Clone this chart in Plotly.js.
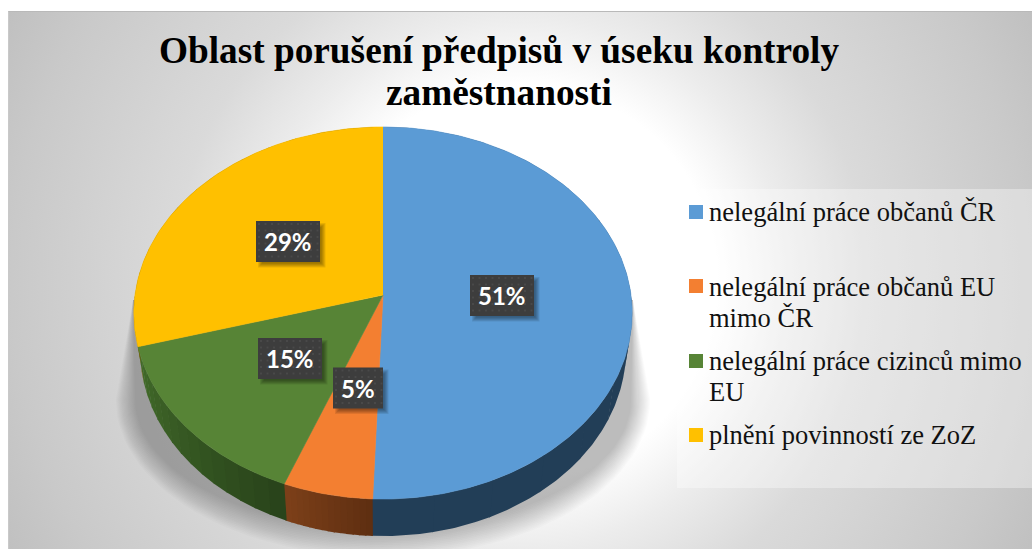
<!DOCTYPE html>
<html>
<head>
<meta charset="utf-8">
<script src="https://cdn.plot.ly/plotly-3.0.1.min.js"></script>
<style>
html,body{margin:0;padding:0;background:#fff;overflow:hidden}
#panel{position:absolute;left:8px;top:11px;width:1024px;height:538px;box-sizing:border-box;border-top:1px solid #b9b9b9;border-left:1px solid #c9c9c9;
background:radial-gradient(circle farthest-corner at 512px 270px,#fff 0%,#fff 34%,#ececec 46%,#dadada 60%,#c9c9c9 88%,#c0c0c0 100%)}
#chart{position:absolute;left:0;top:0;width:1033px;height:549px}
</style>
</head>
<body>
<div id="panel"></div>
<div id="chart"></div>
<script>
// ---- data ----
const titleLines = ["Oblast porušení předpisů v úseku kontroly", "zaměstnanosti"];
const categories = ["nelegální práce občanů ČR", "nelegální práce občanů EU<br>mimo ČR", "nelegální práce cizinců mimo<br>EU", "plnění povinností ze ZoZ"];
const shares = [50.6, 5.3, 14.7, 29.4];
const shareLabels = ["51%", "5%", "15%", "29%"];
const topColors = ["#5b9bd5", "#f37f31", "#578436", "#ffc000"];
const wallStart = ["#223e57", "#7d4019", "#426b2a", "#7f6000"];
const wallEnd   = ["#223e57", "#5e2e11", "#28431a", "#7f6000"];
// label box placement (centre x, centre y, width)
const labelX = [502, 358, 290, 288];
const labelY = [295.5, 388, 358.5, 241.5];
const labelW = [64, 50, 64, 64];
// legend placement (vertical centre of each entry's first line)
const legendY = [212, 286.5, 361, 435];
const LEGEND_LINE = 31;

// ---- perspective disc ----
const W = 1033, H = 549;
const CX = 383, APEX = 295, RX = 248, SY = 184.3, K = 0.0968, DEPTH = 37, FLOOR_SCALE = 0.975;
function disc(deg, floor) {
  const a = deg * Math.PI / 180, u = Math.sin(a), v = -Math.cos(a), d = 1 - K * v;
  const s = floor ? FLOOR_SCALE : 1;
  return [CX + s * RX * u / d, APEX + SY * v / d + (floor ? DEPTH : 0)];
}
function arc(from, to, floor) {
  const n = Math.max(2, Math.ceil(Math.abs(to - from) / 0.75)), pts = [];
  for (let i = 0; i <= n; i++) pts.push(disc(from + (to - from) * i / n, floor));
  return pts;
}
function poly(pts, color, extra) {
  return Object.assign({
    type: "scatter", mode: "lines", x: pts.map(p => p[0]), y: pts.map(p => p[1]),
    fill: "toself", fillcolor: color, line: {color: "rgba(0,0,0,0)", width: 0},
    showlegend: false, hoverinfo: "skip"
  }, extra || {});
}
function mix(a, b, t) {
  const p = s => [1, 3, 5].map(i => parseInt(s.substr(i, 2), 16));
  const A = p(a), B = p(b);
  return "rgb(" + A.map((c, i) => Math.round(c + (B[i] - c) * t)).join(",") + ")";
}

const traces = [];

// soft ground shadow
for (let L = 16; L >= 0; L--) {
  const rx = 248 + L * 1.2, ry = 130 + L * 1.7, cy = 400, pts = [];
  pts.push([CX + 250, 300]);
  for (let d = 0; d <= 180; d += 3) {
    const a = d * Math.PI / 180;
    pts.push([CX + rx * Math.cos(a), cy + ry * Math.sin(a)]);
  }
  pts.push([CX - 250, 300]);
  traces.push(poly(pts, "rgba(0,0,0,0.016)"));
}

// side wall and top slices
let cum = 0;
const spans = shares.map(s => { const r = [cum, cum + s * 3.6]; cum = r[1]; return r; });
spans.forEach((sp, i) => {
  const BANDS = 14;
  for (let b = 0; b < BANDS; b++) {
    const f = sp[0] + (sp[1] - sp[0]) * b / BANDS, t = sp[0] + (sp[1] - sp[0]) * (b + 1) / BANDS;
    const top = arc(f, t + 0.3, false), bot = arc(t + 0.3, f, true);
    traces.push(poly(top.concat(bot), mix(wallStart[i], wallEnd[i], 1 - (b + 0.5) / BANDS)));
  }
});
spans.forEach((sp, i) => {
  traces.push(poly([[CX, APEX]].concat(arc(sp[0], sp[1], false)), topColors[i],
    {line: {color: topColors[i], width: 0.6}}));
});

// legend box, swatches and shapes under the value labels
const shapes = [{type: "rect", xref: "x", yref: "y", x0: 677, x1: 1033, y0: 189, y1: 488,
  fillcolor: "rgba(255,255,255,0.35)", line: {width: 0}, layer: "below"}];
legendY.forEach((y, i) => { const c = Math.round(y - 0.1); shapes.push({type: "rect", xref: "x", yref: "y", layer: "above",
  x0: 689, x1: 703, y0: c - 7, y1: c + 7, fillcolor: topColors[i], line: {width: 0}}); });
labelX.forEach((x, i) => {
  for (let e = 0; e < 5; e++) {
    shapes.push({type: "rect", xref: "x", yref: "y", layer: "above",
      x0: x - labelW[i] / 2 + 6 - e, x1: x + labelW[i] / 2 + 1.5 + e,
      y0: labelY[i] - 20.5 + 6 - e, y1: labelY[i] + 20.5 + 1.5 + e,
      fillcolor: "rgba(0,0,0,0.09)", line: {width: 0}});
  }
  shapes.push({type: "rect", xref: "x", yref: "y", layer: "above",
    x0: x - labelW[i] / 2, x1: x + labelW[i] / 2, y0: labelY[i] - 20.5, y1: labelY[i] + 20.5,
    fillcolor: "#3d3d3d", line: {width: 0}});
  // faint dotted texture of the label boxes
  for (let yy = labelY[i] - 17.5; yy < labelY[i] + 20; yy += 6.5) {
    for (let xx = x - labelW[i] / 2 + 3; xx < x + labelW[i] / 2 - 1; xx += 6.5) {
      shapes.push({type: "rect", xref: "x", yref: "y", layer: "above",
        x0: xx - 1, x1: xx + 1, y0: yy - 1, y1: yy + 1, fillcolor: "#494949", line: {width: 0}});
    }
  }
});

const annotations = shareLabels.map((t, i) => ({
  text: "<b>" + t + "</b>", x: labelX[i], y: labelY[i], xref: "x", yref: "y", showarrow: false,
  font: {family: "Lato", size: 24, color: "#ffffff"}
}));
annotations.push({text: "<b>" + titleLines[1] + "</b>", x: 499, y: 92, xref: "x", yref: "y", showarrow: false,
  font: {family: "Liberation Serif", size: 37.3, color: "#000"}});
categories.forEach((c, i) => c.split("<br>").forEach((line, j) => annotations.push({
  text: line, x: 707, y: legendY[i] + j * LEGEND_LINE, xref: "x", yref: "y", xanchor: "left", showarrow: false,
  font: {family: "Liberation Serif", size: 26.5, color: "#111"}
})));

const layout = {
  width: W, height: H, margin: {l: 0, r: 0, t: 0, b: 0},
  paper_bgcolor: "rgba(0,0,0,0)", plot_bgcolor: "rgba(0,0,0,0)",
  title: {text: titleLines[0], x: 499 / W, xanchor: "center", y: 1 - 50 / H, yanchor: "middle", automargin: false,
    font: {family: "Liberation Serif", size: 37.3, color: "#000", weight: 700}},
  xaxis: {range: [0, W], visible: false, fixedrange: true},
  yaxis: {range: [H, 0], visible: false, fixedrange: true},
  showlegend: false,
  shapes, annotations
};
Plotly.newPlot("chart", traces, layout, {displayModeBar: false, staticPlot: true});
</script>
</body>
</html>
